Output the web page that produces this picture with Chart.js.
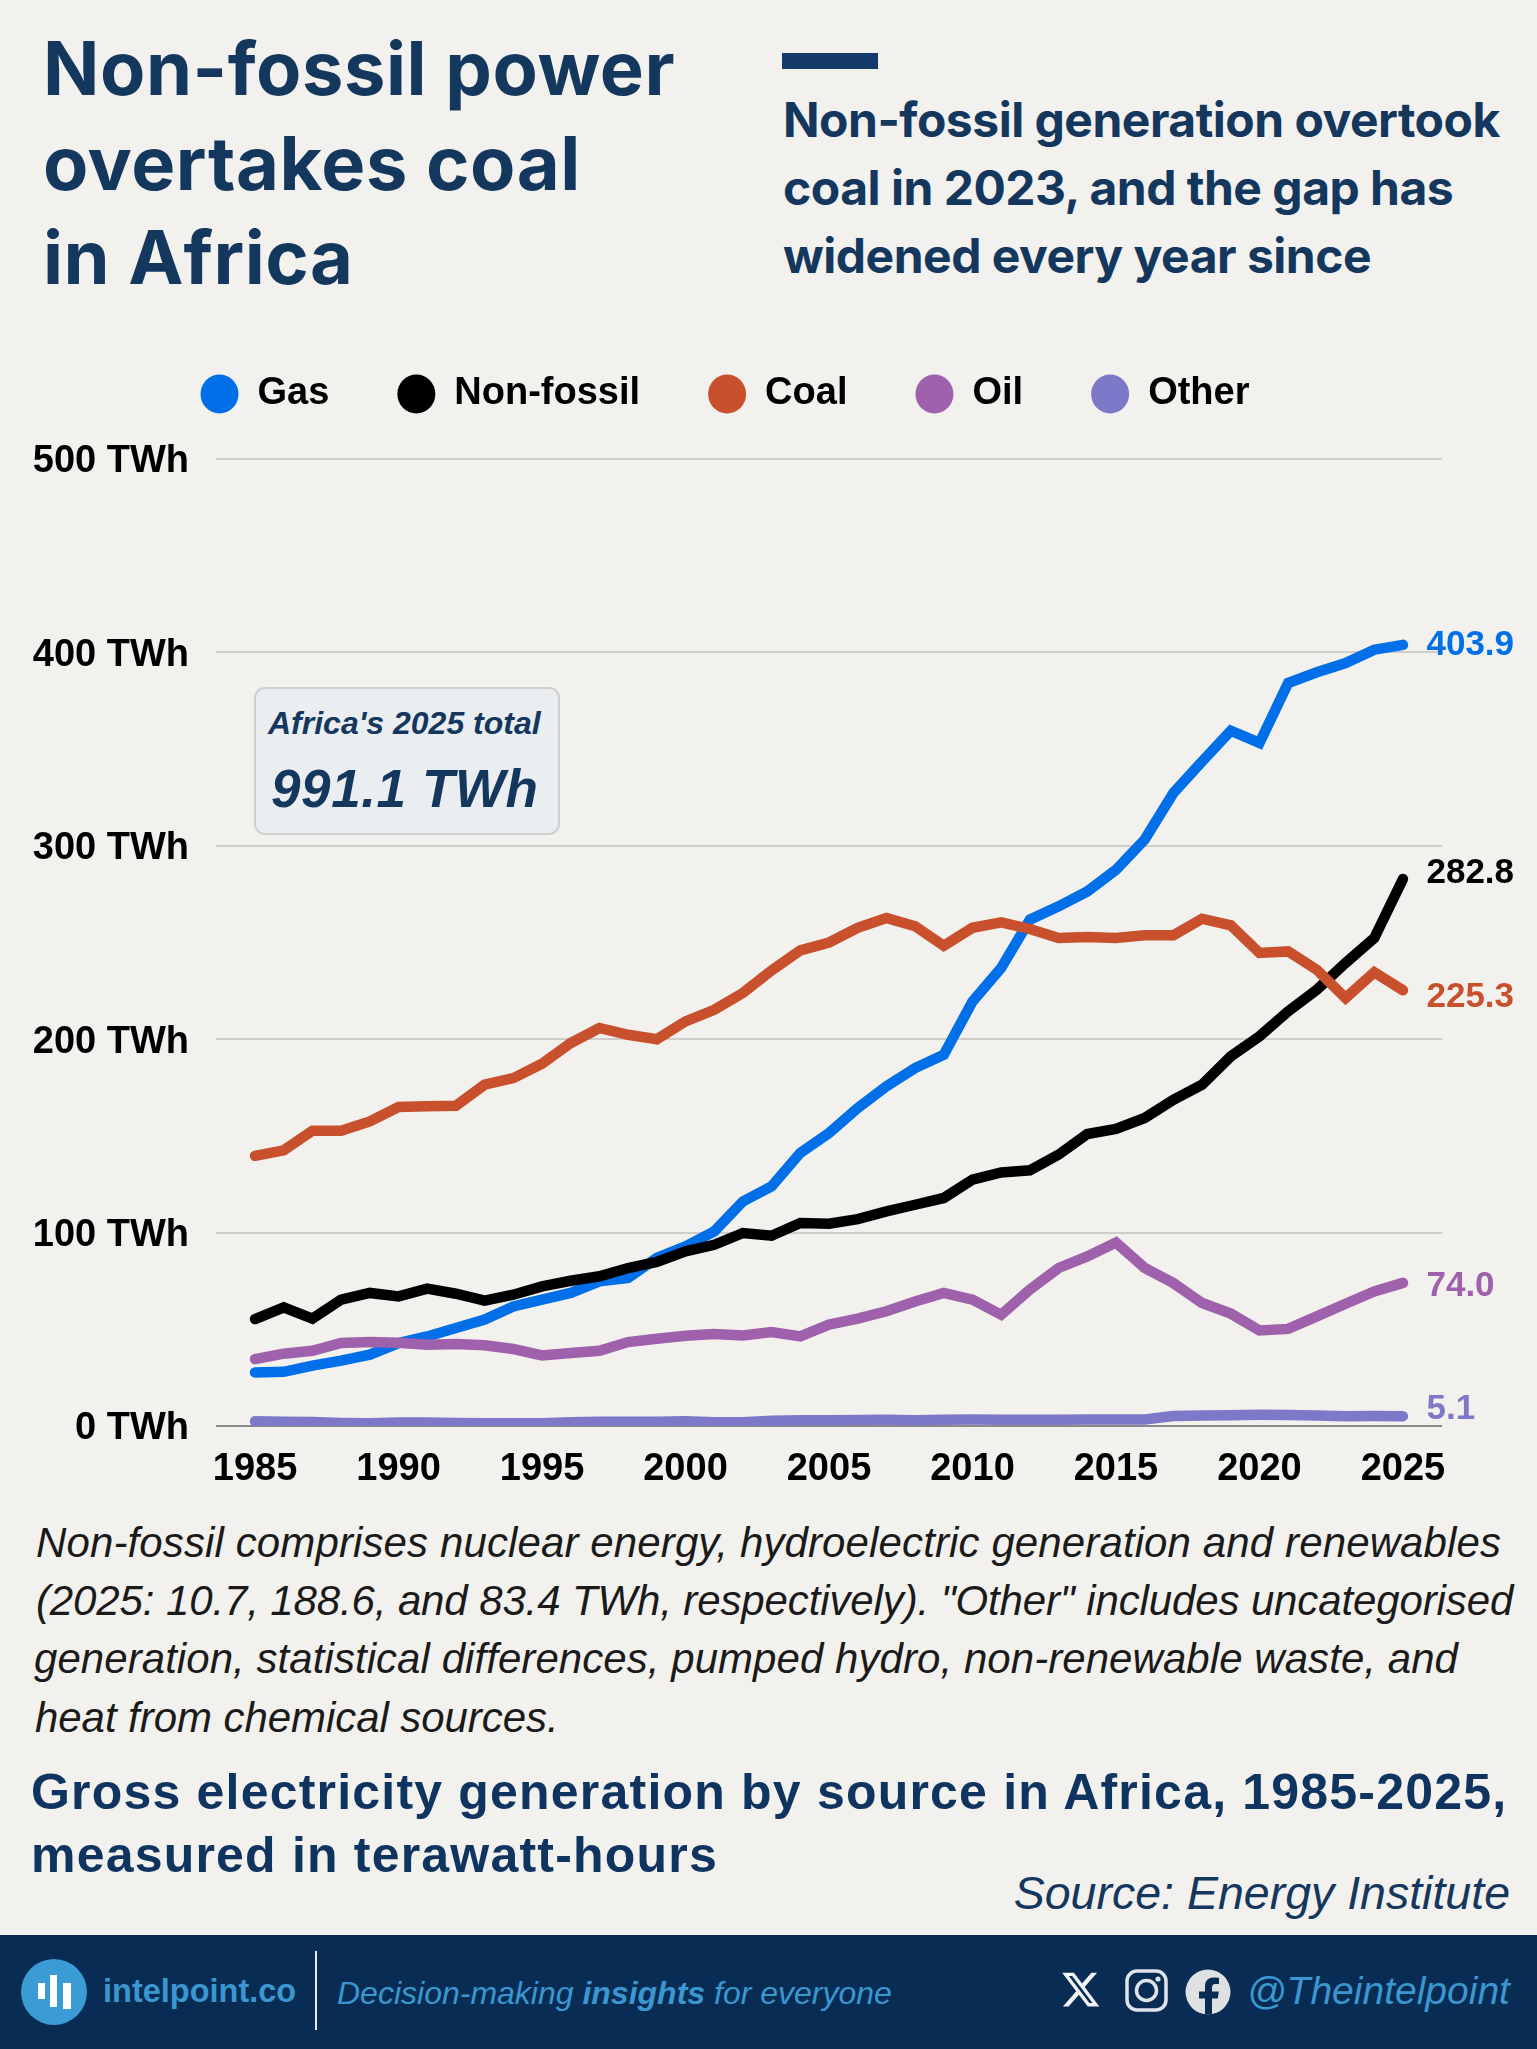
<!DOCTYPE html>
<html>
<head>
<meta charset="utf-8">
<title>Non-fossil power overtakes coal in Africa</title>
<script src="https://cdn.jsdelivr.net/npm/chart.js@4"></script>
<style>
  html, body { margin: 0; padding: 0; background: #f3f1ee; }
  #page { position: relative; width: 1537px; height: 2049px; overflow: hidden; background: #f3f1ee; }
  #page svg { position: absolute; left: 0; top: 0; }
  #page canvas { position: absolute; left: 0; top: 307px; }
  text { font-family: "Liberation Sans", sans-serif; }
  .title { font: 700 74px Inter, sans-serif; fill: #14375e; letter-spacing: 0.55px; }
  .sub { font: 700 48px Inter, sans-serif; fill: #14375e; letter-spacing: -0.5px; }
  .note { font-style: italic; font-size: 42px; fill: #1a1a1a; }
  .head { font-weight: 700; font-size: 50px; fill: #0f3460; letter-spacing: 1.2px; }
  .src { font-style: italic; font-size: 46.5px; fill: #14375e; }
  .foot { fill: #3b97cf; }
</style>
</head>
<body>
<div id="page">
  <svg width="1537" height="2049" viewBox="0 0 1537 2049">
    <text class="title" x="43" y="95">Non-fossil power</text>
    <text class="title" x="43" y="190">overtakes coal</text>
    <text class="title" x="43" y="284">in Africa</text>
    <rect x="782" y="53" width="96" height="16" fill="#14396b"/>
    <text class="sub" x="783" y="137">Non-fossil generation overtook</text>
    <text class="sub" x="783" y="205">coal in 2023, and the gap has</text>
    <text class="sub" x="783" y="273">widened every year since</text>

    <rect x="255" y="688" width="304" height="146" rx="10" fill="#ebeef1" stroke="#cfcfcf" stroke-width="2"/>
    <text x="268" y="734" font-size="32" font-weight="700" font-style="italic" fill="#14375e">Africa's 2025 total</text>
    <text x="271" y="807" font-size="53" font-weight="700" font-style="italic" fill="#14375e" letter-spacing="0.6">991.1 TWh</text>

    <text class="note" x="36" y="1557" letter-spacing="0.12">Non-fossil comprises nuclear energy, hydroelectric generation and renewables</text>
    <text class="note" x="36" y="1615" letter-spacing="-0.12">(2025: 10.7, 188.6, and 83.4 TWh, respectively). "Other" includes uncategorised</text>
    <text class="note" x="34" y="1673" letter-spacing="0.06">generation, statistical differences, pumped hydro, non-renewable waste, and</text>
    <text class="note" x="35" y="1732" letter-spacing="-0.06">heat from chemical sources.</text>
    <text class="head" x="31" y="1809">Gross electricity generation by source in Africa, 1985-2025,</text>
    <text class="head" x="31" y="1872">measured in terawatt-hours</text>
    <text class="src" x="1510" y="1909" text-anchor="end">Source: Energy Institute</text>

    <rect x="0" y="1935" width="1537" height="114" fill="#082c54"/>
    <circle cx="54" cy="1992" r="33" fill="#3a9bd5"/>
    <rect x="38" y="1983" width="7" height="16" fill="#fff"/>
    <rect x="50" y="1975" width="7" height="32" fill="#fff"/>
    <rect x="63" y="1983" width="8" height="26" fill="#fff"/>
    <text class="foot" x="103" y="2002" font-size="32.5" font-weight="700">intelpoint.co</text>
    <rect x="315" y="1951" width="2" height="79" fill="#e8ecf0"/>
    <text class="foot" x="337" y="2004" font-size="32" font-style="italic">Decision-making <tspan font-weight="700">insights</tspan> for everyone</text>
    <!-- social icons -->
    <path transform="translate(1060 1969) scale(1.72)" fill="#f2f4f6" d="M18.244 2.25h3.308l-7.227 8.26 8.502 11.24H16.17l-5.214-6.817L4.99 21.75H1.68l7.73-8.835L1.254 2.25H8.08l4.713 6.231zm-1.161 17.52h1.833L7.084 4.126H5.117z"/>
    <rect x="1127" y="1971" width="39" height="39" rx="10" fill="none" stroke="#dfe4ea" stroke-width="3.5"/>
    <circle cx="1146.5" cy="1990.5" r="10" fill="none" stroke="#dfe4ea" stroke-width="3.5"/>
    <circle cx="1158" cy="1979" r="2.6" fill="#dfe4ea"/>
    <circle cx="1208" cy="1992" r="22.5" fill="#dfe0e2"/>
    <path fill="#082c54" d="M1205 2014.5v-16h-6v-7h6v-5c0-6 3.500-9 9-9 2.500 0 4.500.3 5 .4v6h-3.500c-2.800 0-3.500 1.400-3.500 3.400v4.200h6.800l-1 7h-5.800v16z"/>
    <text class="foot" x="1247" y="2004" font-size="39" font-style="italic">@Theintelpoint</text>
  </svg>
  <canvas id="chart" width="1537" height="1199"></canvas>
</div>
<script>
const years = [1985, 1986, 1987, 1988, 1989, 1990, 1991, 1992, 1993, 1994, 1995, 1996, 1997, 1998, 1999,
  2000, 2001, 2002, 2003, 2004, 2005, 2006, 2007, 2008, 2009, 2010, 2011, 2012, 2013, 2014,
  2015, 2016, 2017, 2018, 2019, 2020, 2021, 2022, 2023, 2024, 2025];
const gas = [27.7, 28, 31.2, 33.8, 36.9, 42.9, 46.3, 50.7, 55, 61.8, 65.3, 68.8, 74.8, 76.5, 86.9,
  92.9, 100.6, 116.1, 123.9, 141.2, 151.5, 164.4, 175.6, 185.1, 192, 219.5, 236.8, 261.8, 268.7, 276.4,
  287.6, 303.2, 327.3, 343.6, 359.5, 353.2, 384.2, 389.7, 394.5, 401.4, 403.9];
const nonFossil = [55.3, 61.3, 55.5, 65.3, 68.8, 67, 71, 68.4, 64.8, 67.9, 72.2, 75.1, 77.4, 81.7, 84.8,
  90.3, 93.7, 99.8, 98.4, 105, 104.6, 107, 111, 114.4, 117.9, 127.4, 131.1, 132.2, 140.3, 151,
  153.6, 159.3, 168.7, 176.5, 191.1, 201.5, 214.4, 225.6, 239.4, 252.3, 282.8];
const coal = [139.7, 142.5, 152.7, 152.7, 157.5, 164.9, 165.3, 165.6, 176.5, 179.9, 187.3, 198, 205.8, 202.3, 200,
  209.2, 215.2, 223.9, 235.6, 245.9, 250, 257.6, 262.7, 258.4, 248.3, 257.6, 260.4, 257, 252.3, 252.8,
  252.3, 253.7, 253.7, 262.3, 258.9, 244.6, 245.4, 235.9, 221.3, 234.6, 225.3];
const oil = [34.6, 37.4, 38.9, 42.9, 43.4, 43, 42, 42.4, 41.7, 39.8, 36.5, 37.7, 38.9, 43.4, 45.1,
  46.7, 47.6, 46.8, 48.6, 46.3, 52.4, 55.5, 59.3, 64.4, 68.8, 65.3, 57.5, 70.5, 81.7, 87.7,
  94.9, 81.7, 73.9, 63.6, 58.1, 49.4, 50.2, 56.7, 63.2, 69.6, 74];
const other = [2.4, 2.2, 2.1, 1.6, 1.4, 1.8, 1.8, 1.5, 1.4, 1.4, 1.4, 1.9, 2.2, 2.2, 2.2,
  2.4, 1.9, 2, 2.7, 3, 3, 3.1, 3.2, 3, 3.2, 3.3, 3.2, 3.2, 3.2, 3.3,
  3.3, 3.4, 5.2, 5.4, 5.6, 5.8, 5.7, 5.4, 5.1, 5.2, 5.1];
const seriesNames = ['Gas', 'Non-fossil', 'Coal', 'Oil', 'Other'];
const seriesValues = [gas, nonFossil, coal, oil, other];
const yearTicks = [1985, 1990, 1995, 2000, 2005, 2010, 2015, 2020, 2025];

const COLORS = ['#006fe8', '#000000', '#c8502c', '#9f60ac', '#7d78c8'];
// end labels sit a little off their points so they don't collide
const LABEL_NUDGE = [0, -6, 7, 3, -7];
const FONT = '"Liberation Sans", sans-serif';

// keeps the wide legend spacing without the legend eating the plot height
const legendHeight = {
  id: 'legendHeight',
  afterInit(chart) {
    const fit = chart.legend.fit;
    chart.legend.fit = function () {
      fit.call(this);
      this.height = 152;
    };
  },
};

const endLabels = {
  id: 'endLabels',
  afterDatasetsDraw(chart) {
    const { ctx } = chart;
    ctx.save();
    ctx.font = `700 35px ${FONT}`;
    ctx.textAlign = 'left';
    ctx.textBaseline = 'middle';
    seriesValues.forEach((values, i) => {
      const pts = chart.getDatasetMeta(i).data;
      const last = pts[pts.length - 1];
      ctx.fillStyle = COLORS[i];
      ctx.fillText(values[values.length - 1].toFixed(1), last.x + 23.5, last.y + LABEL_NUDGE[i]);
    });
    ctx.restore();
  },
};

new Chart(document.getElementById('chart'), {
  type: 'line',
  plugins: [legendHeight, endLabels],
  data: {
    datasets: seriesNames.map((name, i) => ({
      label: name,
      data: years.map((year, j) => ({ x: year, y: seriesValues[i][j] })),
      borderColor: COLORS[i],
      backgroundColor: COLORS[i],
      borderWidth: 10.5,
      borderCapStyle: 'round',
      borderJoinStyle: 'miter',
      tension: 0,
      pointRadius: 0,
      pointStyle: 'circle',
      order: seriesNames.length - i,
    })),
  },
  options: {
    responsive: false,
    devicePixelRatio: 1,
    animation: false,
    layout: { padding: { left: 8, right: 95, top: 0, bottom: 0 } },
    scales: {
      x: {
        type: 'linear',
        min: 1983.64,
        max: 2026.36,
        afterBuildTicks: (axis) => { axis.ticks = yearTicks.map((value) => ({ value })); },
        afterFit: (axis) => { axis.height = 80; },
        grid: { display: false },
        border: { display: false },
        ticks: {
          autoSkip: false,
          maxRotation: 0,
          padding: 13,
          color: '#000',
          font: { family: FONT, size: 38, weight: '700' },
          callback: (v) => String(v),
        },
      },
      y: {
        min: 0,
        max: 500,
        afterFit: (axis) => { axis.width = 208; },
        grid: {
          drawTicks: false,
          lineWidth: 2,
          color: (c) => (c.tick.value === 0 ? '#8a8a8a' : '#cfcdca'),
        },
        border: { display: false },
        ticks: {
          stepSize: 100,
          padding: 27,
          labelOffset: 3,
          color: '#000',
          font: { family: FONT, size: 38, weight: '700' },
          callback: (v) => `${v} TWh`,
        },
      },
    },
    plugins: {
      tooltip: { enabled: false },
      legend: {
        position: 'top',
        labels: {
          usePointStyle: true,
          pointStyleWidth: 38,
          boxHeight: 27.6,
          padding: 68,
          color: '#000',
          font: { family: FONT, size: 38, weight: '700' },
          sort: (a, b) => a.datasetIndex - b.datasetIndex,
          generateLabels: (chart) =>
            Chart.defaults.plugins.legend.labels.generateLabels(chart).map((item) => ({
              ...item,
              lineWidth: 0,
              pointStyle: 'circle',
            })),
        },
      },
    },
  },
});
</script>
</body>
</html>
